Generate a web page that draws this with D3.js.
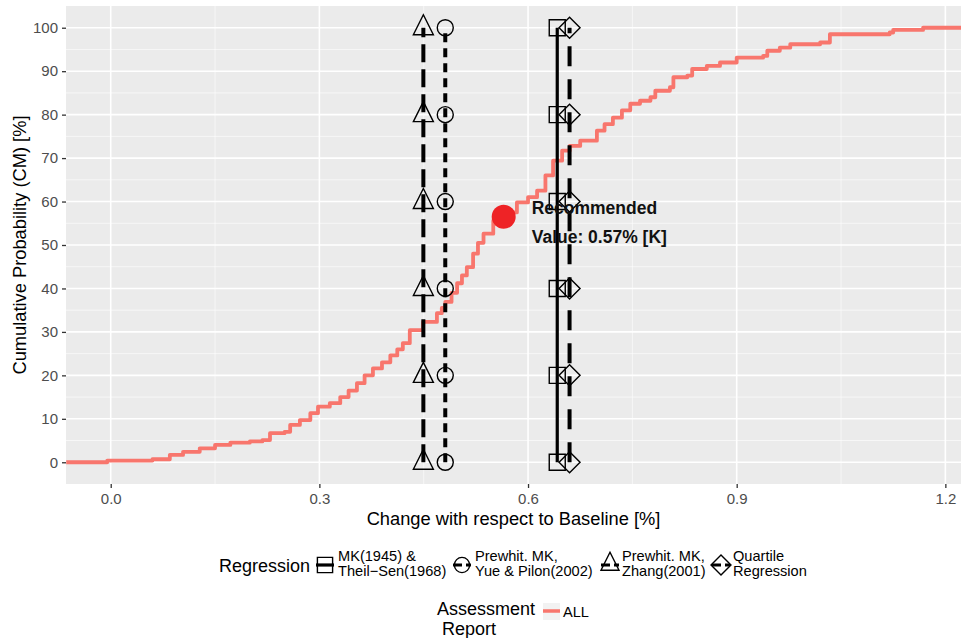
<!DOCTYPE html>
<html>
<head>
<meta charset="utf-8">
<script src="https://d3js.org/d3.v7.min.js"></script>
<style>
body { margin: 0; background: #fff; }
text { font-family: "Liberation Sans", Arial, sans-serif; }
</style>
</head>
<body>
<div id="chart"></div>
<script>
//Size of the page
var width = 961, height = 638;

//ECDF of all assessment reports (change [%], cumulative probability [%])
var ecdfX = [-0.064, -0.005, 0.06, 0.085, 0.104, 0.128, 0.15, 0.172, 0.2, 0.218, 0.229, 0.25, 0.258, 0.272, 0.287, 0.298,
    0.315, 0.33, 0.342, 0.354, 0.365, 0.377, 0.39, 0.402, 0.412, 0.42, 0.43, 0.449, 0.469, 0.476, 0.481, 0.49, 0.498,
    0.505, 0.512, 0.521, 0.528, 0.536, 0.55, 0.565, 0.584, 0.6, 0.613, 0.625, 0.636, 0.649, 0.66, 0.675, 0.699, 0.71,
    0.722, 0.735, 0.747, 0.761, 0.776, 0.783, 0.804, 0.809, 0.829, 0.836, 0.857, 0.876, 0.9, 0.938, 0.944, 0.962,
    0.977, 1.02, 1.034, 1.12, 1.125, 1.168, 1.2225];
var ecdfY = [0, 0.4, 0.7, 1.7, 2.4, 3.2, 4.0, 4.5, 4.8, 5.1, 6.7, 7.0, 8.6, 9.7, 11.3, 12.8,
    13.6, 15.0, 16.5, 18.2, 20.0, 21.6, 23.0, 24.6, 26.0, 27.4, 30.4, 32.3, 34.3, 35.5, 36.9, 39.0, 41.2,
    43.0, 44.9, 48.0, 50.5, 52.6, 55.6, 57.5, 59.8, 61.0, 62.5, 66.0, 69.4, 71.7, 72.8, 74.0, 76.3, 77.8,
    79.3, 81.0, 82.5, 83.2, 84.0, 85.5, 86.3, 88.6, 89.0, 90.5, 91.2, 92.0, 93.1, 93.5, 94.7, 95.4,
    96.2, 96.6, 98.5, 98.9, 99.5, 100, 100];

//Regression methods and their trend values
var methods = ["MK(1945) &\nTheil\u2212Sen(1968)", "Prewhit. MK,\nYue & Pilon(2002)", "Prewhit. MK,\nZhang(2001)", "Quartile\nRegression"];
var methodShapes = ["square", "circle", "triangle", "diamond"];
var methodValues = [0.642, 0.481, 0.4495, 0.6597];
var methodDash = [null, "9,6", "18,7", "20,13"];
var markerLevels = [0, 20, 40, 60, 80, 100];

//Recommended value
var recommended = {x: 0.565, y: 56.5, label: ["Recommended", "Value: 0.57% [K]"]};

//Axis ticks
var xTicks = [0, 0.3, 0.6, 0.9, 1.2];
var xMinor = [0.15, 0.45, 0.75, 1.05];
var yTicks = [0, 10, 20, 30, 40, 50, 60, 70, 80, 90, 100];
var yMinor = [5, 15, 25, 35, 45, 55, 65, 75, 85, 95];

var panel = {left: 66, top: 6, right: 961, bottom: 484};

var x = d3.scaleLinear().domain([-0.0643, 1.2225]).range([panel.left, panel.right]);
var y = d3.scaleLinear().domain([-5, 105]).range([panel.bottom, panel.top]);

var svg = d3.select("#chart").append("svg")
    .attr("width", width)
    .attr("height", height);

svg.append("rect").attr("width", width).attr("height", height).attr("fill", "#fff");

//panel background
svg.append("rect")
    .attr("x", panel.left).attr("y", panel.top)
    .attr("width", panel.right - panel.left).attr("height", panel.bottom - panel.top)
    .attr("fill", "#EBEBEB");

svg.append("clipPath").attr("id", "clip").append("rect")
    .attr("x", panel.left).attr("y", panel.top)
    .attr("width", panel.right - panel.left).attr("height", panel.bottom - panel.top);

var g = svg.append("g").attr("clip-path", "url(#clip)");

//grid lines, minor first
g.selectAll(".xminor").data(xMinor).enter().append("line")
    .attr("x1", function(d) { return x(d); }).attr("x2", function(d) { return x(d); })
    .attr("y1", panel.top).attr("y2", panel.bottom)
    .attr("stroke", "#fff").attr("stroke-width", 0.6);
g.selectAll(".yminor").data(yMinor).enter().append("line")
    .attr("y1", function(d) { return y(d); }).attr("y2", function(d) { return y(d); })
    .attr("x1", panel.left).attr("x2", panel.right)
    .attr("stroke", "#fff").attr("stroke-width", 0.6);
g.selectAll(".xmajor").data(xTicks).enter().append("line")
    .attr("x1", function(d) { return x(d); }).attr("x2", function(d) { return x(d); })
    .attr("y1", panel.top).attr("y2", panel.bottom)
    .attr("stroke", "#fff").attr("stroke-width", 1.6);
g.selectAll(".ymajor").data(yTicks).enter().append("line")
    .attr("y1", function(d) { return y(d); }).attr("y2", function(d) { return y(d); })
    .attr("x1", panel.left).attr("x2", panel.right)
    .attr("stroke", "#fff").attr("stroke-width", 1.6);

//ecdf step line
var ecdf = ecdfX.map(function(d, i) { return [d, ecdfY[i]]; });
var stepLine = d3.line()
    .x(function(d) { return x(d[0]); })
    .y(function(d) { return y(d[1]); })
    .curve(d3.curveStepAfter);
g.append("path")
    .datum(ecdf)
    .attr("d", stepLine)
    .attr("fill", "none")
    .attr("stroke", "#F8766D")
    .attr("stroke-width", 3.8)
    .attr("stroke-linejoin", "round");

//marker path for each shape
function shapePath(shape, s) {
    if (shape == "square") {
        return "M" + (-8 * s) + "," + (-8 * s) + "h" + (16 * s) + "v" + (16 * s) + "h" + (-16 * s) + "Z";
    } else if (shape == "triangle") {
        return "M0," + (-13 * s) + "L" + (10 * s) + "," + (7 * s) + "L" + (-10 * s) + "," + (7 * s) + "Z";
    } else if (shape == "diamond") {
        return "M0," + (-10.5 * s) + "L" + (10.5 * s) + ",0L0," + (10.5 * s) + "L" + (-10.5 * s) + ",0Z";
    }
    var r = 8 * s;
    return "M" + (-r) + ",0A" + r + "," + r + " 0 1,0 " + r + ",0A" + r + "," + r + " 0 1,0 " + (-r) + ",0Z";
}

//vertical regression lines
methods.forEach(function(m, i) {
    g.append("line")
        .attr("x1", x(methodValues[i])).attr("x2", x(methodValues[i]))
        .attr("y1", y(0)).attr("y2", y(100))
        .attr("stroke", "#000")
        .attr("stroke-width", i == 0 ? 3.2 : 4)
        .attr("stroke-dasharray", methodDash[i]);
});

//markers on the regression lines
methods.forEach(function(m, i) {
    g.selectAll(".mk" + i).data(markerLevels).enter().append("path")
        .attr("transform", function(d) { return "translate(" + x(methodValues[i]) + "," + y(d) + ")"; })
        .attr("d", shapePath(methodShapes[i], 1))
        .attr("fill", "none")
        .attr("stroke", "#000")
        .attr("stroke-width", 1.4);
});

//recommended point and label
g.append("circle")
    .attr("cx", x(recommended.x)).attr("cy", y(recommended.y))
    .attr("r", 12)
    .attr("fill", "#EE2326");
g.selectAll(".rec").data(recommended.label).enter().append("text")
    .attr("x", x(recommended.x) + 28)
    .attr("y", function(d, i) { return y(recommended.y) - 3 + i * 29; })
    .attr("font-size", "17.5px")
    .attr("font-weight", "bold")
    .attr("fill", "#111")
    .text(function(d) { return d; });

//axes
var xAxis = svg.append("g")
    .attr("transform", "translate(0," + panel.bottom + ")")
    .call(d3.axisBottom(x).tickValues(xTicks).tickFormat(d3.format(".1f")).tickSize(4).tickPadding(5));
var yAxis = svg.append("g")
    .attr("transform", "translate(" + panel.left + ",0)")
    .call(d3.axisLeft(y).tickValues(yTicks).tickSize(4).tickPadding(4));
[xAxis, yAxis].forEach(function(a) {
    a.select(".domain").remove();
    a.selectAll("line").attr("stroke", "#333").attr("stroke-width", 1.3);
    a.selectAll("text").attr("fill", "#4D4D4D").attr("font-size", "15px")
        .attr("font-family", "'Liberation Sans', Arial, sans-serif");
});

//axis titles
svg.append("text")
    .attr("x", (panel.left + panel.right) / 2).attr("y", 525)
    .attr("text-anchor", "middle")
    .attr("font-size", "18.3px")
    .text("Change with respect to Baseline [%]");
svg.append("text")
    .attr("transform", "translate(26," + ((panel.top + panel.bottom) / 2) + ") rotate(-90)")
    .attr("text-anchor", "middle")
    .attr("font-size", "18.3px")
    .text("Cumulative Probability (CM) [%]");

//Regression legend
var legend = svg.append("g");
legend.append("text").attr("x", 219).attr("y", 572).attr("font-size", "18px").text("Regression");
var keyX = [325, 462, 610, 721];
var labelX = [338, 475, 622, 733];
methods.forEach(function(m, i) {
    var k = legend.append("g").attr("transform", "translate(" + keyX[i] + ",565)");
    k.append("line")
        .attr("x1", -9).attr("x2", 9).attr("y1", 0).attr("y2", 0)
        .attr("stroke", "#000").attr("stroke-width", 3.2)
        .attr("stroke-dasharray", methodDash[i] ? "9,4" : null);
    k.append("path")
        .attr("transform", methodShapes[i] == "triangle" ? "translate(0,-1)" : null)
        .attr("d", shapePath(methodShapes[i], methodShapes[i] == "triangle" ? 0.9 : 0.95))
        .attr("fill", "none").attr("stroke", "#000").attr("stroke-width", 1.4);
    legend.selectAll(".lab" + i).data(m.split("\n")).enter().append("text")
        .attr("x", labelX[i])
        .attr("y", function(d, j) { return 561 + j * 14.5; })
        .attr("font-size", "14.6px")
        .text(function(d) { return d; });
});

//Assessment report legend
var legend2 = svg.append("g");
legend2.selectAll("text.t").data(["Assessment", "Report"]).enter().append("text")
    .attr("x", function(d, i) { return i == 0 ? 437 : 442; })
    .attr("y", function(d, i) { return 615 + i * 20; })
    .attr("font-size", "18px")
    .text(function(d) { return d; });
legend2.append("rect").attr("x", 543).attr("y", 603).attr("width", 17).attr("height", 17).attr("fill", "#F2F2F2");
legend2.append("line").attr("x1", 543).attr("x2", 560).attr("y1", 611).attr("y2", 611)
    .attr("stroke", "#F8766D").attr("stroke-width", 3.5);
legend2.append("text").attr("x", 563).attr("y", 617).attr("font-size", "14.6px").text("ALL");
</script>
</body>
</html>
